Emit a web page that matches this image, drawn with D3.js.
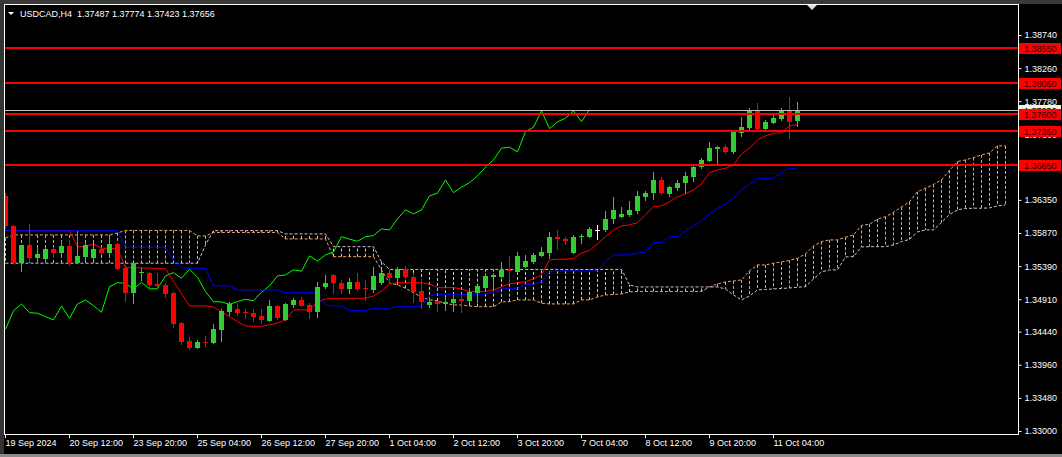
<!DOCTYPE html>
<html>
<head>
<meta charset="utf-8">
<script src="https://cdn.jsdelivr.net/npm/d3@7"></script>
<style>
  html, body { margin: 0; padding: 0; background: #000; overflow: hidden; }
  svg { display: block; }
  text { font-family: "Liberation Sans", Arial, sans-serif; font-size: 9px; }
</style>
</head>
<body>
<div id="chart"></div>
<script>
// ---- data ----
const title = "USDCAD,H4  1.37487 1.37774 1.37423 1.37656";

const timeTickBars = [0, 8, 16, 24, 32, 40, 48, 56, 64, 72, 80, 88, 96];
const timeTickLabels = ["19 Sep 2024", "20 Sep 12:00", "23 Sep 20:00", "25 Sep 04:00", "26 Sep 12:00",
  "27 Sep 20:00", "1 Oct 04:00", "2 Oct 12:00", "3 Oct 20:00", "7 Oct 04:00", "8 Oct 12:00",
  "9 Oct 20:00", "11 Oct 04:00"];

const priceTicks = [1.38740, 1.38260, 1.37780, 1.37300, 1.36820, 1.36350, 1.35870, 1.35390,
  1.34910, 1.34440, 1.33960, 1.33480, 1.33000];

const levels = [1.38550, 1.38050, 1.37600, 1.37350, 1.36850];
const bid = 1.37656;

const opens = [
  1.36408, 1.35977, 1.35440, 1.35697, 1.35513, 1.35494, 1.35635, 1.35581, 1.35683, 1.35440,
  1.35527, 1.35513, 1.35639, 1.35577, 1.35712, 1.35364, 1.35005, 1.35287, 1.35291, 1.35132,
  1.35117, 1.35005, 1.34570, 1.34305, 1.34208, 1.34295, 1.34280, 1.34465, 1.34730, 1.34769,
  1.34730, 1.34715, 1.34668, 1.34599, 1.34813, 1.34610, 1.34827, 1.34900, 1.34827, 1.34721,
  1.35092, 1.35262, 1.35150, 1.35059, 1.35156, 1.35074, 1.35045, 1.35142, 1.35295, 1.35214,
  1.35345, 1.35233, 1.35030, 1.34831, 1.34881, 1.34837, 1.34860, 1.34910, 1.34885, 1.35005,
  1.35069, 1.35237, 1.35237, 1.35335, 1.35310, 1.35382, 1.35451, 1.35538, 1.35585, 1.35817,
  1.35788, 1.35585, 1.35809, 1.35817, 1.35915, 1.35915, 1.36070, 1.36107, 1.36132, 1.36194,
  1.36397, 1.36447, 1.36640, 1.36437, 1.36519, 1.36600, 1.36687, 1.36824, 1.36919, 1.37089,
  1.37114, 1.37050, 1.37325, 1.37398, 1.37640, 1.37375, 1.37470, 1.37528, 1.37640, 1.37487];

const highs = [
  1.36451, 1.35987, 1.35697, 1.36006, 1.35664, 1.35672, 1.35672, 1.35759, 1.35770, 1.35900,
  1.35722, 1.35722, 1.35664, 1.35817, 1.35726, 1.35407, 1.35436, 1.35364, 1.35310, 1.35291,
  1.35142, 1.35016, 1.34581, 1.34367, 1.34320, 1.34382, 1.34552, 1.34769, 1.34875, 1.34860,
  1.34765, 1.34765, 1.34765, 1.34900, 1.34827, 1.34860, 1.34924, 1.34939, 1.34849, 1.35165,
  1.35262, 1.35269, 1.35190, 1.35214, 1.35287, 1.35190, 1.35374, 1.35335, 1.35335, 1.35382,
  1.35393, 1.35291, 1.35204, 1.34947, 1.34885, 1.34947, 1.34972, 1.34972, 1.35069, 1.35117,
  1.35287, 1.35295, 1.35446, 1.35538, 1.35591, 1.35552, 1.35577, 1.35672, 1.35890, 1.35915,
  1.35817, 1.35842, 1.35852, 1.35962, 1.35987, 1.36190, 1.36393, 1.36252, 1.36335, 1.36480,
  1.36484, 1.36760, 1.36679, 1.36557, 1.36640, 1.36760, 1.36857, 1.36954, 1.37195, 1.37125,
  1.37147, 1.37354, 1.37549, 1.37679, 1.37752, 1.37510, 1.37597, 1.37679, 1.37847, 1.37774];

const lows = [
  1.35944, 1.35429, 1.35324, 1.35469, 1.35446, 1.35469, 1.35527, 1.35542, 1.35407, 1.35436,
  1.35494, 1.35494, 1.35567, 1.35542, 1.35349, 1.34885, 1.34860, 1.35190, 1.35092, 1.35063,
  1.34947, 1.34512, 1.34262, 1.34185, 1.34199, 1.34233, 1.34276, 1.34305, 1.34682, 1.34682,
  1.34634, 1.34599, 1.34562, 1.34595, 1.34624, 1.34602, 1.34794, 1.34813, 1.34639, 1.34657,
  1.35069, 1.35005, 1.35005, 1.34997, 1.35045, 1.34900, 1.35020, 1.35132, 1.35165, 1.35150,
  1.35219, 1.34875, 1.34779, 1.34802, 1.34744, 1.34755, 1.34744, 1.34721, 1.34871, 1.34871,
  1.35059, 1.35055, 1.35226, 1.35142, 1.35306, 1.35378, 1.35436, 1.35530, 1.35504, 1.35639,
  1.35707, 1.35581, 1.35722, 1.35813, 1.35780, 1.35904, 1.36020, 1.36103, 1.36118, 1.36165,
  1.36350, 1.36368, 1.36437, 1.36408, 1.36495, 1.36455, 1.36629, 1.36814, 1.36915, 1.36882,
  1.37035, 1.37035, 1.37282, 1.37354, 1.37375, 1.37367, 1.37462, 1.37510, 1.37244, 1.37423];

const closes = [
  1.35973, 1.35440, 1.35697, 1.35513, 1.35567, 1.35635, 1.35581, 1.35683, 1.35440, 1.35538,
  1.35697, 1.35639, 1.35577, 1.35712, 1.35353, 1.35005, 1.35432, 1.35310, 1.35113, 1.35103,
  1.34987, 1.34547, 1.34286, 1.34208, 1.34295, 1.34280, 1.34475, 1.34744, 1.34842, 1.34715,
  1.34707, 1.34657, 1.34610, 1.34813, 1.34634, 1.34842, 1.34900, 1.34817, 1.34721, 1.35092,
  1.35150, 1.35142, 1.35059, 1.35156, 1.35059, 1.35063, 1.35248, 1.35295, 1.35214, 1.35345,
  1.35229, 1.35020, 1.34875, 1.34871, 1.34837, 1.34875, 1.34910, 1.34889, 1.35011, 1.35103,
  1.35248, 1.35262, 1.35335, 1.35316, 1.35538, 1.35465, 1.35552, 1.35596, 1.35817, 1.35780,
  1.35751, 1.35817, 1.35832, 1.35929, 1.35915, 1.36074, 1.36205, 1.36147, 1.36205, 1.36408,
  1.36447, 1.36640, 1.36455, 1.36534, 1.36600, 1.36698, 1.36824, 1.36930, 1.37099, 1.37114,
  1.37046, 1.37340, 1.37404, 1.37640, 1.37383, 1.37481, 1.37534, 1.37640, 1.37485, 1.37656];

// Ichimoku lines, as drawn on the chart
const tenkan = [
  1.35904, 1.35904, 1.35904, 1.35904, 1.35904, 1.35904, 1.35904, 1.35904, 1.35904, 1.35672,
  1.35672, 1.35712, 1.35649, 1.35649, 1.35639, 1.35368, 1.35368, 1.35364, 1.35359, 1.35359,
  1.35349, 1.35171, 1.34991, 1.34813, 1.34813, 1.34813, 1.34798, 1.34726, 1.34657, 1.34585,
  1.34523, 1.34518, 1.34518, 1.34537, 1.34566, 1.34610, 1.34755, 1.34755, 1.34755, 1.34871,
  1.34914, 1.34924, 1.34924, 1.34924, 1.34924, 1.34924, 1.34958, 1.35030, 1.35132, 1.35150,
  1.35150, 1.35150, 1.35150, 1.35132, 1.35078, 1.35078, 1.35078, 1.35059, 1.35020, 1.35020,
  1.35020, 1.35045, 1.35092, 1.35132, 1.35150, 1.35165, 1.35204, 1.35262, 1.35480, 1.35490,
  1.35490, 1.35501, 1.35581, 1.35617, 1.35712, 1.35817, 1.35915, 1.35973, 1.35987, 1.36020,
  1.36132, 1.36252, 1.36263, 1.36321, 1.36393, 1.36437, 1.36495, 1.36582, 1.36741, 1.36785,
  1.36809, 1.36857, 1.37017, 1.37099, 1.37220, 1.37278, 1.37317, 1.37321, 1.37423, 1.37437];

const kijun = [
  1.35904, 1.35904, 1.35904, 1.35904, 1.35904, 1.35904, 1.35904, 1.35904, 1.35904, 1.35904,
  1.35904, 1.35904, 1.35904, 1.35904, 1.35904, 1.35664, 1.35664, 1.35664, 1.35664, 1.35664,
  1.35664, 1.35480, 1.35368, 1.35359, 1.35359, 1.35359, 1.35103, 1.35103, 1.35103, 1.35045,
  1.35045, 1.35045, 1.35045, 1.35045, 1.35045, 1.35005, 1.35005, 1.35005, 1.35005, 1.35005,
  1.34827, 1.34813, 1.34813, 1.34744, 1.34744, 1.34744, 1.34779, 1.34779, 1.34779, 1.34802,
  1.34802, 1.34802, 1.34802, 1.34958, 1.34982, 1.34982, 1.34982, 1.34982, 1.34982, 1.34982,
  1.34982, 1.35020, 1.35069, 1.35069, 1.35069, 1.35127, 1.35127, 1.35165, 1.35306, 1.35320,
  1.35320, 1.35320, 1.35320, 1.35320, 1.35320, 1.35451, 1.35552, 1.35552, 1.35552, 1.35581,
  1.35591, 1.35730, 1.35730, 1.35817, 1.35817, 1.35900, 1.35973, 1.36045, 1.36147, 1.36229,
  1.36292, 1.36374, 1.36495, 1.36567, 1.36664, 1.36664, 1.36664, 1.36737, 1.36809, 1.36809];

const senkouA = [
  1.35799, 1.35842, 1.35842, 1.35842, 1.35842, 1.35842, 1.35842, 1.35842, 1.35842, 1.35842,
  1.35842, 1.35842, 1.35842, 1.35842, 1.35871, 1.35907, 1.35907, 1.35907, 1.35907, 1.35907,
  1.35907, 1.35907, 1.35907, 1.35907, 1.35828, 1.35828, 1.35878, 1.35878, 1.35878, 1.35878,
  1.35878, 1.35878, 1.35878, 1.35878, 1.35878, 1.35784, 1.35784, 1.35784, 1.35784, 1.35784,
  1.35784, 1.35527, 1.35527, 1.35527, 1.35527, 1.35527, 1.35527, 1.35335, 1.35146, 1.35117,
  1.35069, 1.35001, 1.34943, 1.34900, 1.34885, 1.34852, 1.34827, 1.34827, 1.34813, 1.34802,
  1.34802, 1.34802, 1.34871, 1.34875, 1.34900, 1.34900, 1.34900, 1.34852, 1.34842, 1.34842,
  1.34842, 1.34842, 1.34900, 1.34900, 1.34943, 1.34972, 1.34979, 1.34987, 1.35016, 1.35023,
  1.35023, 1.35023, 1.35023, 1.35023, 1.35023, 1.35023, 1.35023, 1.35023, 1.35088, 1.35132,
  1.35161, 1.35175, 1.35190, 1.35320, 1.35407, 1.35407, 1.35432, 1.35451, 1.35472, 1.35504,
  1.35567, 1.35683, 1.35745, 1.35770, 1.35770, 1.35809, 1.35842, 1.35980, 1.35997, 1.36070,
  1.36107, 1.36168, 1.36248, 1.36321, 1.36470, 1.36519, 1.36574, 1.36640, 1.36777, 1.36905,
  1.36930, 1.36963, 1.37002, 1.37031, 1.37133, 1.37133];

const senkouB = [
  1.35432, 1.35432, 1.35432, 1.35432, 1.35432, 1.35432, 1.35432, 1.35432, 1.35432, 1.35432,
  1.35432, 1.35432, 1.35432, 1.35432, 1.35432, 1.35432, 1.35432, 1.35432, 1.35432, 1.35432,
  1.35432, 1.35432, 1.35432, 1.35432, 1.35432, 1.35697, 1.35904, 1.35904, 1.35904, 1.35904,
  1.35904, 1.35904, 1.35904, 1.35904, 1.35904, 1.35857, 1.35857, 1.35857, 1.35857, 1.35857,
  1.35857, 1.35672, 1.35672, 1.35672, 1.35672, 1.35672, 1.35672, 1.35451, 1.35342, 1.35342,
  1.35342, 1.35342, 1.35342, 1.35342, 1.35342, 1.35342, 1.35342, 1.35342, 1.35342, 1.35342,
  1.35342, 1.35342, 1.35342, 1.35342, 1.35342, 1.35342, 1.35342, 1.35342, 1.35342, 1.35342,
  1.35342, 1.35342, 1.35342, 1.35342, 1.35342, 1.35342, 1.35342, 1.35342, 1.35117, 1.35088,
  1.35088, 1.35088, 1.35088, 1.35088, 1.35088, 1.35088, 1.35088, 1.35088, 1.35088, 1.35088,
  1.35059, 1.34972, 1.34900, 1.34958, 1.35045, 1.35052, 1.35059, 1.35066, 1.35073, 1.35084,
  1.35092, 1.35204, 1.35306, 1.35335, 1.35335, 1.35523, 1.35527, 1.35668, 1.35672, 1.35672,
  1.35672, 1.35697, 1.35745, 1.35777, 1.35886, 1.35915, 1.35915, 1.36023, 1.36139, 1.36205,
  1.36226, 1.36229, 1.36229, 1.36234, 1.36263, 1.36277];

const chikouShift = 26;

// ---- layout ----
const W = 1062, H = 457;
const plot = { left: 4.5, top: 4.5, right: 1018.5, bottom: 434.5 };
const colUp = "#32cd32", colDown = "#ff0000", colDoji = "#ffffff";
const sandy = "#f4a460", thistle = "#d8bfd8";

const svg = d3.select("#chart").append("svg")
  .attr("width", W)
  .attr("height", H)
  .style("background", "#000");

// window edges of the terminal
svg.append("rect").attr("x", 0).attr("y", 0).attr("width", 4).attr("height", 455).attr("fill", "#333");
svg.append("rect").attr("x", 0).attr("y", 0).attr("width", W).attr("height", 4).attr("fill", "#3a3a3a");
svg.append("rect").attr("x", 0).attr("y", 454).attr("width", W).attr("height", 3).attr("fill", "#8a8a8a");

const x = d3.scaleLinear().domain([0, 125]).range([5, 1005]);
const y = d3.scaleLinear().domain([1.33000, 1.38740]).range([431, 35]);
const px = v => Math.round(v) + 0.5;

svg.append("clipPath").attr("id", "plotClip")
  .append("rect")
  .attr("x", 5).attr("y", 5)
  .attr("width", plot.right - 5.5).attr("height", plot.bottom - 5.5);

const g = svg.append("g").attr("clip-path", "url(#plotClip)");

// --- kumo: dotted histogram between span A and span B ---
const cloudIdx = d3.range(senkouA.length);
g.append("g").selectAll("line")
  .data(cloudIdx)
  .enter().append("line")
  .attr("x1", i => px(x(i))).attr("x2", i => px(x(i)))
  .attr("y1", i => y(senkouA[i])).attr("y2", i => y(senkouB[i]))
  .attr("stroke", i => senkouA[i] >= senkouB[i] ? sandy : thistle)
  .attr("stroke-width", 1)
  .attr("stroke-dasharray", "3,2");

const lineOf = arr => d3.line()
  .x((d, i) => px(x(i)))
  .y(d => y(d))(arr);

g.append("path").attr("d", lineOf(senkouA))
  .attr("fill", "none").attr("stroke", sandy).attr("stroke-dasharray", "3,2");
g.append("path").attr("d", lineOf(senkouB))
  .attr("fill", "none").attr("stroke", thistle).attr("stroke-dasharray", "3,2");

// chikou span = closes shifted back
const chikou = closes.slice(chikouShift);
g.append("path").attr("d", lineOf(chikou))
  .attr("fill", "none").attr("stroke", "#00ff00").attr("stroke-width", 1);

g.append("path").attr("d", lineOf(tenkan))
  .attr("fill", "none").attr("stroke", "#ff0000").attr("stroke-width", 1);
g.append("path").attr("d", lineOf(kijun))
  .attr("fill", "none").attr("stroke", "#0000ff").attr("stroke-width", 1);

// --- candles ---
const bars = d3.range(opens.length).map(i => ({
  i, o: opens[i], h: highs[i], l: lows[i], c: closes[i]
}));
const candleColor = d => d.c > d.o ? colUp : (d.c < d.o ? colDown : colDoji);

const candles = g.append("g").attr("shape-rendering", "crispEdges")
  .selectAll("g").data(bars).enter().append("g");

candles.append("line")
  .attr("x1", d => px(x(d.i))).attr("x2", d => px(x(d.i)))
  .attr("y1", d => Math.round(y(d.h))).attr("y2", d => Math.round(y(d.l)) + 1)
  .attr("stroke", candleColor);

candles.append("rect")
  .attr("x", d => Math.round(x(d.i)) - 2)
  .attr("width", 5)
  .attr("y", d => Math.round(y(Math.max(d.o, d.c))))
  .attr("height", d => Math.max(1, Math.round(y(Math.min(d.o, d.c))) - Math.round(y(Math.max(d.o, d.c)))))
  .attr("fill", candleColor);

// --- bid line and horizontal levels (objects on top) ---
g.append("line")
  .attr("x1", 5).attr("x2", plot.right)
  .attr("y1", px(y(bid))).attr("y2", px(y(bid)))
  .attr("stroke", "#c0c0c0");

g.append("g").selectAll("line").data(levels).enter().append("line")
  .attr("x1", 5).attr("x2", plot.right)
  .attr("y1", d => Math.round(y(d))).attr("y2", d => Math.round(y(d)))
  .attr("stroke", "#ff0000").attr("stroke-width", 2);

// --- frame ---
svg.append("rect")
  .attr("x", plot.left).attr("y", plot.top)
  .attr("width", plot.right - plot.left).attr("height", plot.bottom - plot.top)
  .attr("fill", "none").attr("stroke", "#fffef4");

// --- price axis ---
const yAxis = svg.append("g")
  .attr("transform", `translate(${plot.right}, 0)`)
  .call(d3.axisRight(y).tickValues(priceTicks).tickSize(3).tickPadding(3).tickFormat(d3.format(".5f")));
yAxis.select(".domain").remove();
yAxis.selectAll("line").attr("stroke", "#fffef4");
yAxis.selectAll("text").attr("fill", "#ffffff").attr("font-size", "9px")
  .attr("font-family", "Liberation Sans, Arial, sans-serif");

// bid label (mostly hidden behind the 1.37600 label)
svg.append("rect")
  .attr("x", 1019).attr("y", Math.round(y(bid)) - 5)
  .attr("width", 42).attr("height", 11).attr("fill", "#f6f2de");
svg.append("text")
  .attr("x", 1024).attr("y", Math.round(y(bid)) + 3.5)
  .attr("fill", "#000").text(d3.format(".5f")(bid));

const lvlLabels = svg.append("g").selectAll("g").data(levels).enter().append("g");
lvlLabels.append("rect")
  .attr("x", 1019).attr("y", d => Math.round(y(d)) - 5)
  .attr("width", 42).attr("height", 11)
  .attr("fill", "#ff0000");
lvlLabels.append("text")
  .attr("x", 1024).attr("y", d => Math.round(y(d)) + 3.5)
  .attr("fill", "#1a0000")
  .text(d => d3.format(".5f")(d));

// --- time axis ---
const xAxis = svg.append("g")
  .attr("transform", `translate(0, ${plot.bottom - 0.5})`)
  .call(d3.axisBottom(x).tickValues(timeTickBars).tickSize(4).tickPadding(2)
    .tickFormat((d, k) => timeTickLabels[k]));
xAxis.select(".domain").remove();
xAxis.selectAll("line").attr("stroke", "#fffef4");
xAxis.selectAll("text")
  .attr("text-anchor", "start").attr("x", 0)
  .attr("fill", "#ffffff").attr("font-size", "9px")
  .attr("font-family", "Liberation Sans, Arial, sans-serif");

// --- header ---
svg.append("path").attr("d", "M8,12L14,12L11,15Z").attr("fill", "#ffffff");
svg.append("text")
  .attr("x", 20).attr("y", 17)
  .attr("fill", "#ffffff").attr("font-size", "9.8px")
  .attr("xml:space", "preserve")
  .style("white-space", "pre")
  .text(title);

// chart shift marker
svg.append("path").attr("d", "M807,5L817,5L812,10Z").attr("fill", "#e0e0e0");
</script>
</body>
</html>
